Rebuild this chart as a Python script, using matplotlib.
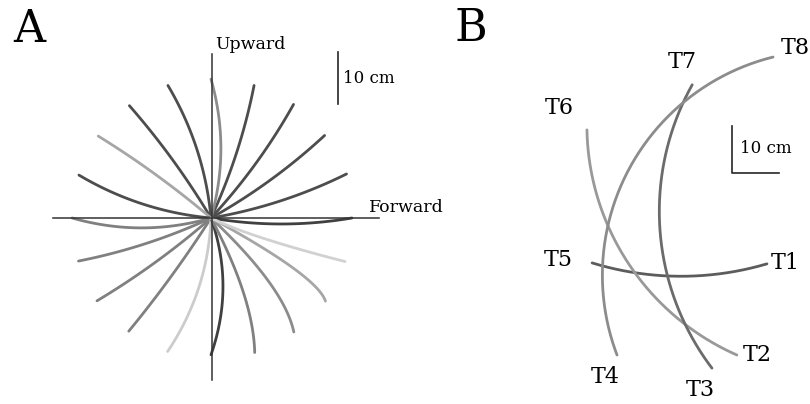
import numpy as np
import matplotlib
matplotlib.use('Agg')
from matplotlib import pyplot as plt

plt.rcParams['font.family'] = ['DejaVu Serif']

# ---- panel A: 20 reaching movements from a common start point (cm)
angles_deg = [0, 18, 36, 54, 72, 90, 108, 126, 144, 162,
              180, 198, 216, 234, 252, 270, 288, 306, 324, 342]
reach_cm = [27.1, 27.4, 27.0, 27.0, 26.8, 26.7, 26.8, 26.7, 26.8, 26.7,
            26.7, 26.8, 27.1, 26.9, 27.0, 26.3, 27.2, 27.1, 27.2, 27.1]
# bow: sideways deviation (cm, + = right of movement), bow_pos: where along the path it peaks
bow_cm = [1.15, 1.0, 0.8, 0.8, 0.8, 1.9, 1.5, 0.6, 0.5, -1.5,
          -1.9, -0.8, -0.6, -0.4, -1.9, -2.3, -1.5, -1.8, -1.5, 0.6]
bow_pos = [0.5, 0.5, 0.5, 0.5, 0.5, 0.5, 0.5, 0.5, 0.5, 0.5,
           0.5, 0.5, 0.5, 0.5, 0.5, 0.5, 0.63, 0.7, 0.85, 0.3]
gray_A = [0.25, 0.3, 0.3, 0.3, 0.3, 0.55, 0.3, 0.3, 0.65, 0.3,
          0.5, 0.5, 0.5, 0.5, 0.8, 0.25, 0.5, 0.55, 0.65, 0.82]

# ---- panel B: 4 movements through the workspace, start / middle / end points (cm)
start_B = [(-18.7, -7.0), (-19.8, 21.3), (2.6, 30.9), (19.8, 36.8)]
mid_B = [(-2.1, -9.8), (-9.6, -9.1), (-4.3, 0.6), (-11.3, 12.1)]
end_B = [(18.5, -7.2), (12.1, -26.6), (6.8, -29.4), (-13.4, -26.6)]
gray_B = [0.36, 0.6, 0.42, 0.55]
target_labels = ['T1', 'T2', 'T3', 'T4', 'T5', 'T6', 'T7', 'T8']
target_pos = [(22.3, -7.0), (16.4, -26.6), (4.3, -34.0), (-16.0, -31.3),
              (-26.0, -6.4), (-25.7, 26.0), (0.4, 35.7), (24.5, 38.7)]


def bezier(p2, bow, t):
    p0 = np.array([0.0, 0.0])
    p2 = np.array(p2)
    n = np.array([p2[1], -p2[0]]) / np.hypot(*p2)
    c = t * p2 + 2 * bow * n
    s = np.linspace(0, 1, 100)[:, None]
    pts = (1 - s)**2 * p0 + 2 * (1 - s) * s * c + s**2 * p2
    return pts[:, 0], pts[:, 1]


def arc3(p0, pm, p1):
    (ax_, ay), (bx, by), (cx, cy) = p0, pm, p1
    d = 2 * (ax_ * (by - cy) + bx * (cy - ay) + cx * (ay - by))
    ux = ((ax_**2 + ay**2) * (by - cy) + (bx**2 + by**2) * (cy - ay) + (cx**2 + cy**2) * (ay - by)) / d
    uy = ((ax_**2 + ay**2) * (cx - bx) + (bx**2 + by**2) * (ax_ - cx) + (cx**2 + cy**2) * (bx - ax_)) / d
    r = np.hypot(ax_ - ux, ay - uy)
    a0 = np.arctan2(ay - uy, ax_ - ux)
    am = np.arctan2(by - uy, bx - ux)
    a1 = np.arctan2(cy - uy, cx - ux)
    ccw = (a1 - a0) % (2 * np.pi)
    if (am - a0) % (2 * np.pi) < ccw:
        th = a0 + np.linspace(0, ccw, 200)
    else:
        th = a0 - np.linspace(0, 2 * np.pi - ccw, 200)
    return ux + r * np.cos(th), uy + r * np.sin(th)


fig = plt.figure(figsize=(8.1, 4.04), dpi=100)

# panel A, 5.2 px per cm, start point at pixel (211, 218)
axA = fig.add_axes([0, 0, 420 / 810, 1])
axA.set_xlim(-211 / 5.2, 209 / 5.2)
axA.set_ylim(-186 / 5.2, 218 / 5.2)
axA.axis('off')

for a, r, b, t, g in zip(angles_deg, reach_cm, bow_cm, bow_pos, gray_A):
    end = (r * np.cos(np.radians(a)), r * np.sin(np.radians(a)))
    x, y = bezier(end, b, t)
    axA.plot(x, y, color=str(g), lw=2.0, solid_capstyle='round', zorder=2)

axA.plot([-30.4, 32.3], [0, 0], color='0.2', lw=1.1, zorder=3)
axA.plot([0.1, 0.1], [-31.2, 31.5], color='0.2', lw=1.1, zorder=3)
axA.text(0.8, 33.3, 'Upward', fontsize=12.5, va='center', ha='left')
axA.text(30.4, 2.0, 'Forward', fontsize=12.5, va='center', ha='left')
axA.plot([24.4, 24.4], [21.9, 31.9], color='0.15', lw=1.2)
axA.text(25.4, 26.9, '10 cm', fontsize=12, va='center', ha='left')

# panel B, 4.7 px per cm, origin at pixel (680, 230)
axB = fig.add_axes([420 / 810, 0, 390 / 810, 1])
axB.set_xlim(-260 / 4.7, 130 / 4.7)
axB.set_ylim(-174 / 4.7, 230 / 4.7)
axB.axis('off')

for p0, pm, p1, g in zip(start_B, mid_B, end_B, gray_B):
    x, y = arc3(p0, pm, p1)
    axB.plot(x, y, color=str(g), lw=2.0, solid_capstyle='round')

for lab, (x, y) in zip(target_labels, target_pos):
    axB.text(x, y, lab, fontsize=16, ha='center', va='center')

axB.plot([11.1, 11.1, 21.1], [22.1, 12.1, 12.1], color='0.15', lw=1.2)
axB.text(12.8, 17.4, '10 cm', fontsize=12, va='center', ha='left')

fig.text(29 / 810, 1 - 29 / 404, 'A', fontsize=32, ha='center', va='center')
fig.text(471 / 810, 1 - 28 / 404, 'B', fontsize=32, ha='center', va='center')

fig.savefig('out.png', dpi=100, facecolor='white')
